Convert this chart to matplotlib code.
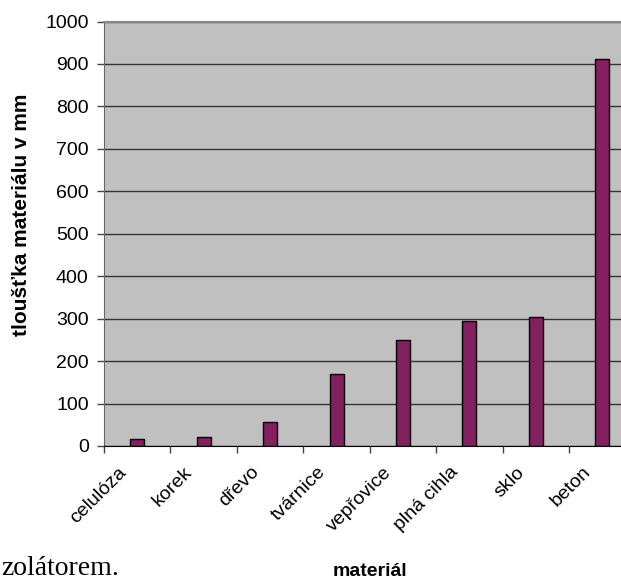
import numpy as np
import matplotlib.pyplot as plt

# data
materialy = ['celulóza', 'korek', 'dřevo', 'tvárnice', 'vepřovice', 'plná cihla', 'sklo', 'beton']
tloustka = [17, 21, 56, 170, 250, 294, 303, 911]
y_ticks = [0, 100, 200, 300, 400, 500, 600, 700, 800, 900, 1000]

plt.rcParams['font.family'] = ['Liberation Sans', 'DejaVu Sans']

W, H = 621, 580
fig = plt.figure(figsize=(W / 100, H / 100), dpi=100)

# plot area (runs past the right edge, like in the source)
left, right, bottom, top = 104, 635.6, 446, 21.5
ax = fig.add_axes([left / W, 1 - bottom / H, (right - left) / W, (bottom - top) / H])
ax.set_facecolor('#c0c0c0')

x = np.arange(len(materialy))
ax.bar(x, tloustka, width=0.21, color='#822060', edgecolor='black', linewidth=1.0, zorder=3)

ax.set_xlim(-0.5, len(materialy) - 0.5)
ax.set_ylim(0, 1000)
ax.set_yticks(y_ticks)
ax.set_yticklabels([str(v) for v in y_ticks], fontsize=14)
ax.yaxis.grid(True, color='#333333', linewidth=1.0, zorder=1)
ax.set_axisbelow(True)

# category boundaries as ticks
ax.set_xticks(np.arange(len(materialy) + 1) - 0.5)
ax.set_xticklabels([])
ax.tick_params(axis='x', length=5, width=1, color='#444444', direction='out')
ax.tick_params(axis='y', length=5, width=1, color='#444444', direction='out', pad=6)

for i, m in enumerate(materialy):
    ax.annotate(m, xy=(i, 0), xycoords=('data', 'axes fraction'),
                xytext=(-10, -17), textcoords='offset points',
                rotation=45, rotation_mode='anchor', ha='right', va='center', fontsize=14)

for s in ['top', 'right']:
    ax.spines[s].set_visible(False)
ax.spines['left'].set_color('#666666')
ax.spines['bottom'].set_color('black')
ax.axhline(1000, color='#888888', linewidth=1.5, zorder=4, clip_on=False)

fig.text(21.5 / W, 1 - 215 / H, 'tloušťka materiálu v mm', rotation=90,
         ha='center', va='center', fontsize=15, fontweight='bold')
fig.text(370 / W, 1 - 571 / H, 'materiál', ha='center', va='center',
         fontsize=14, fontweight='bold')

# leftover text from the surrounding document
fig.text(1 / W, 1 - 575 / H, 'zolátorem.', ha='left', va='baseline',
         fontsize=20, family=['Liberation Serif', 'DejaVu Serif'])

fig.savefig('out.png', dpi=100)
